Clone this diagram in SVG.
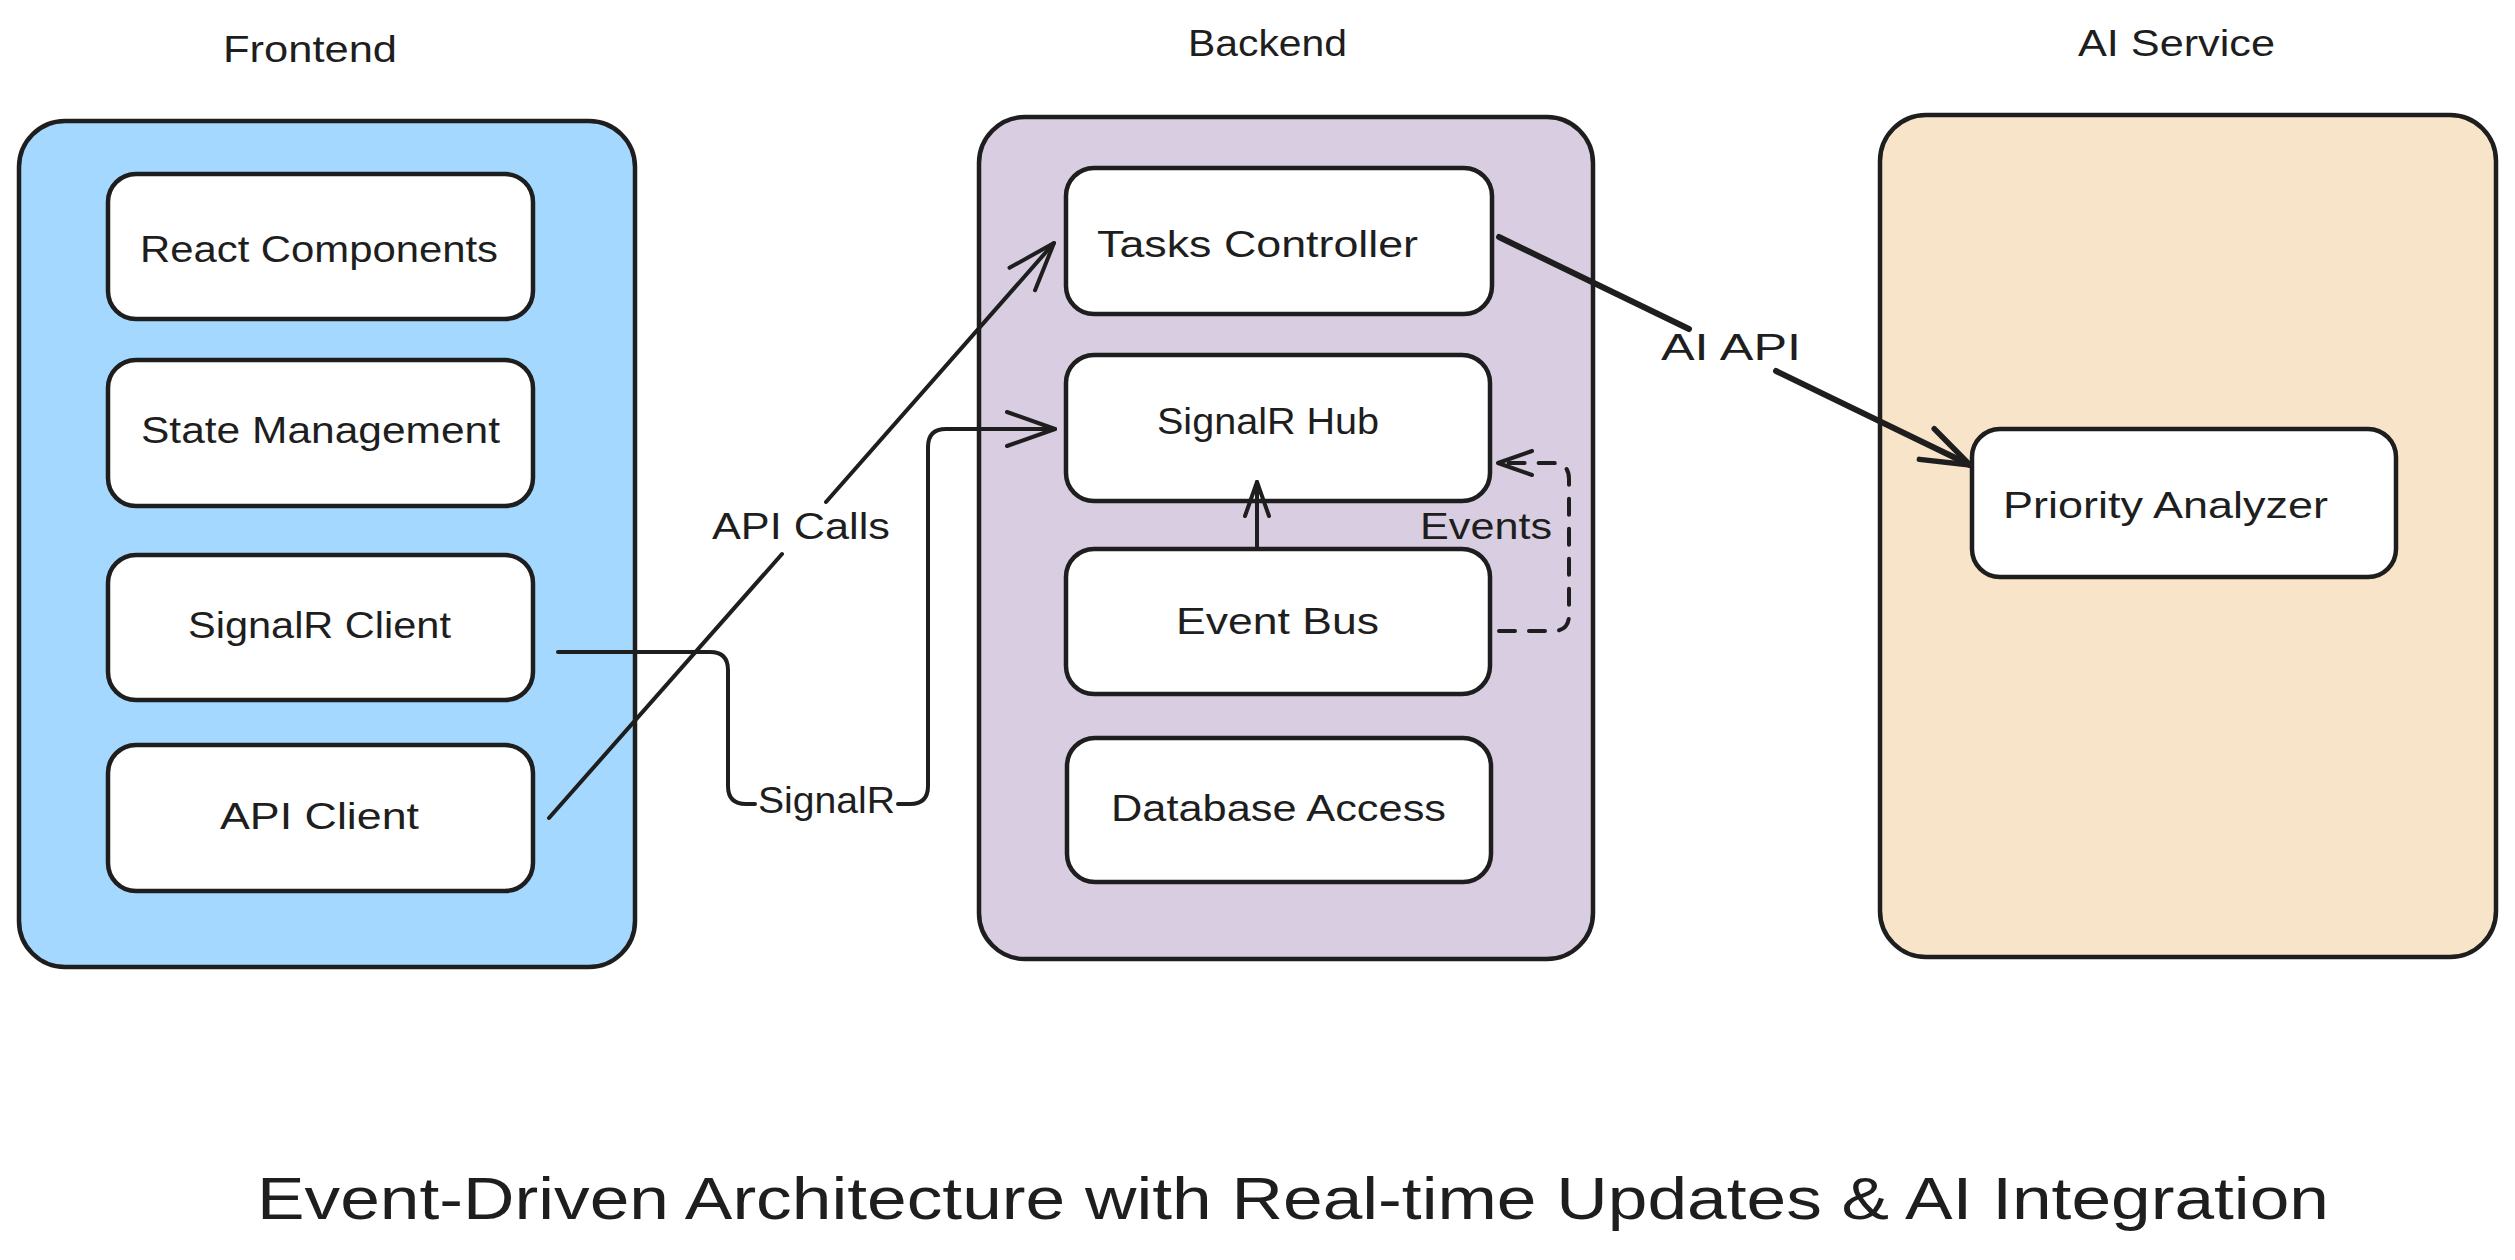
<svg xmlns="http://www.w3.org/2000/svg" width="2515" height="1260" viewBox="0 0 2515 1260">
  <defs>
    <style>
      .bg { fill: #ffffff; }
      .container { stroke: #1e1e1e; stroke-width: 4.5; }
      .fe { fill: #a5d8ff; }
      .be { fill: #d9cde1; }
      .ai { fill: #f8e4c8; }
      .node { fill: #ffffff; stroke: #1e1e1e; stroke-width: 4.5; }
      .lbl { font-family: "Liberation Sans", "Noto Sans", sans-serif; font-size: 36px; fill: #1e1e1e; }
      .title { font-family: "Liberation Sans", "Noto Sans", sans-serif; font-size: 60px; fill: #1e1e1e; }
      .conn { fill: none; stroke: #1e1e1e; stroke-width: 4; stroke-linecap: round; stroke-linejoin: round; }
      .thick { stroke-width: 6; }
      .dash { stroke-dasharray: 16 14; }
    </style>
    <marker id="arrow" markerUnits="userSpaceOnUse" viewBox="0 0 54 40" refX="50" refY="20" markerWidth="54" markerHeight="40" orient="auto" overflow="visible">
      <path d="M 2 3 L 50 20 L 2 37" fill="none" stroke="#1e1e1e" stroke-width="4" stroke-linecap="round" stroke-linejoin="round"/>
    </marker>
    <marker id="arrow-thick" markerUnits="userSpaceOnUse" viewBox="0 0 54 40" refX="50" refY="20" markerWidth="54" markerHeight="40" orient="auto" overflow="visible">
      <path d="M 2 3 L 50 20 L 2 37" fill="none" stroke="#1e1e1e" stroke-width="5.5" stroke-linecap="round" stroke-linejoin="round"/>
    </marker>
    <marker id="arrow-sm" markerUnits="userSpaceOnUse" viewBox="0 0 40 30" refX="36" refY="15" markerWidth="40" markerHeight="30" orient="auto" overflow="visible">
      <path d="M 2 3 L 36 15 L 2 27" fill="none" stroke="#1e1e1e" stroke-width="4" stroke-linecap="round" stroke-linejoin="round"/>
    </marker>
  </defs>

  <rect class="bg" x="0" y="0" width="2515" height="1260"/>

  <!-- Group headers -->
  <text class="lbl" x="223" y="62" textLength="174" lengthAdjust="spacingAndGlyphs">Frontend</text>
  <text class="lbl" x="1188" y="56" textLength="159" lengthAdjust="spacingAndGlyphs">Backend</text>
  <text class="lbl" x="2078" y="56" textLength="197" lengthAdjust="spacingAndGlyphs">AI Service</text>

  <!-- Containers -->
  <g id="frontend">
    <rect class="container fe" x="19" y="121" width="616" height="846" rx="46" ry="46"/>
  </g>
  <g id="backend">
    <rect class="container be" x="979" y="117" width="614" height="842" rx="46" ry="46"/>
  </g>
  <g id="ai-service">
    <rect class="container ai" x="1880" y="115" width="616" height="842" rx="46" ry="46"/>
  </g>

  <!-- Frontend nodes -->
  <g id="react-components">
    <rect class="node" x="108" y="174" width="425" height="145" rx="28" ry="28"/>
    <text class="lbl" x="140" y="262" textLength="358" lengthAdjust="spacingAndGlyphs">React Components</text>
  </g>
  <g id="state-management">
    <rect class="node" x="108" y="360" width="425" height="146" rx="28" ry="28"/>
    <text class="lbl" x="141" y="443" textLength="359" lengthAdjust="spacingAndGlyphs">State Management</text>
  </g>
  <g id="signalr-client">
    <rect class="node" x="108" y="555" width="425" height="145" rx="28" ry="28"/>
    <text class="lbl" x="188" y="638" textLength="263" lengthAdjust="spacingAndGlyphs">SignalR Client</text>
  </g>
  <g id="api-client">
    <rect class="node" x="108" y="745" width="425" height="146" rx="28" ry="28"/>
    <text class="lbl" x="220" y="829" textLength="199" lengthAdjust="spacingAndGlyphs">API Client</text>
  </g>

  <!-- Backend nodes -->
  <g id="tasks-controller">
    <rect class="node" x="1066" y="168" width="426" height="146" rx="28" ry="28"/>
    <text class="lbl" x="1097" y="257" textLength="321" lengthAdjust="spacingAndGlyphs">Tasks Controller</text>
  </g>
  <g id="signalr-hub">
    <rect class="node" x="1066" y="355" width="424" height="146" rx="28" ry="28"/>
    <text class="lbl" x="1157" y="434" textLength="222" lengthAdjust="spacingAndGlyphs">SignalR Hub</text>
  </g>
  <g id="event-bus">
    <rect class="node" x="1066" y="549" width="424" height="145" rx="28" ry="28"/>
    <text class="lbl" x="1176" y="634" textLength="203" lengthAdjust="spacingAndGlyphs">Event Bus</text>
  </g>
  <g id="database-access">
    <rect class="node" x="1067" y="738" width="424" height="144" rx="28" ry="28"/>
    <text class="lbl" x="1111" y="821" textLength="335" lengthAdjust="spacingAndGlyphs">Database Access</text>
  </g>

  <!-- AI Service nodes -->
  <g id="priority-analyzer">
    <rect class="node" x="1972" y="429" width="424" height="148" rx="28" ry="28"/>
    <text class="lbl" x="2003" y="518" textLength="325" lengthAdjust="spacingAndGlyphs">Priority Analyzer</text>
  </g>

  <!-- Connectors -->
  <g id="connectors">
    <!-- API Client -> Tasks Controller -->
    <path class="conn" d="M 549 818 L 782 554 M 826 502 L 1054 243" marker-end="url(#arrow)"/>
    <text class="lbl" x="712" y="539" textLength="178" lengthAdjust="spacingAndGlyphs">API Calls</text>

    <!-- SignalR Client -> SignalR Hub -->
    <path class="conn" d="M 558 652 L 710 652 Q 728 652 728 670 L 728 786 Q 728 804 746 804 L 755 804 M 898 804 L 910 804 Q 928 804 928 786 L 928 447 Q 928 429 946 429 L 1055 429" marker-end="url(#arrow)"/>
    <text class="lbl" x="758" y="813" textLength="137" lengthAdjust="spacingAndGlyphs">SignalR</text>

    <!-- Event Bus -> SignalR Hub -->
    <path class="conn" d="M 1257 548 L 1257 482" marker-end="url(#arrow-sm)"/>

    <!-- Event Bus -> SignalR Hub (Events, dashed) -->
    <path class="conn dash" d="M 1499 631 L 1553 631 Q 1569 631 1569 615 L 1569 479 Q 1569 463 1553 463 L 1498 463" marker-end="url(#arrow-sm)"/>
    <text class="lbl" x="1420" y="539" textLength="132" lengthAdjust="spacingAndGlyphs">Events</text>

    <!-- Tasks Controller -> Priority Analyzer -->
    <path class="conn thick" d="M 1499 237 L 1689 329 M 1776 371 L 1970 465" marker-end="url(#arrow-thick)"/>
    <text class="lbl" x="1661" y="360" textLength="140" lengthAdjust="spacingAndGlyphs">AI API</text>
  </g>

  <!-- Title -->
  <text class="title" x="257" y="1219" textLength="2072" lengthAdjust="spacingAndGlyphs">Event-Driven Architecture with Real-time Updates &amp; AI Integration</text>
</svg>
